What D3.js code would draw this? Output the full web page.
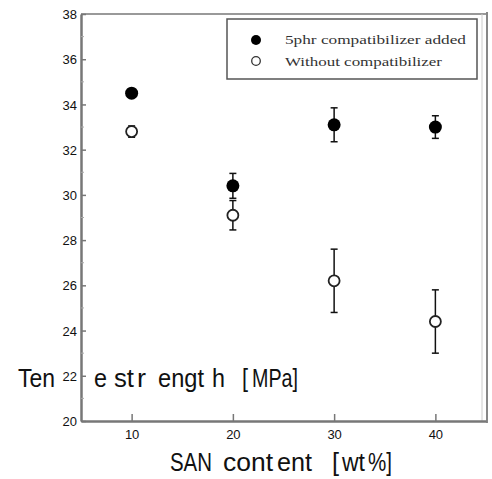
<!DOCTYPE html>
<html>
<head>
<meta charset="utf-8">
<script src="https://cdn.jsdelivr.net/npm/d3@7"></script>
<style>
  body { margin: 0; background: #fff; }
  svg { display: block; }
</style>
</head>
<body>
<div id="chart"></div>
<script>
const content = [10, 20, 30, 40];
const withComp = [34.5, 30.4, 33.1, 33.0];
const withCompErr = [0.1, 0.55, 0.75, 0.5];
const withoutComp = [32.8, 29.1, 26.2, 24.4];
const withoutCompErr = [0.25, 0.65, 1.4, 1.4];
const yTicks = [20, 22, 24, 26, 28, 30, 32, 34, 36, 38];
const xTicks = [10, 20, 30, 40];
const legendLabels = ["5phr compatibilizer added", "Without compatibilizer"];

const width = 492, height = 479;
const svg = d3.select("#chart").append("svg")
  .attr("width", width)
  .attr("height", height);

const x = d3.scaleLinear().domain([5, 45]).range([81, 486]);
const y = d3.scaleLinear().domain([20, 38]).range([421, 14]);

// frame (top and right)
svg.append("line").attr("x1", 81).attr("x2", 486).attr("y1", 14).attr("y2", 14)
  .attr("stroke", "#999").attr("stroke-width", 2);
svg.append("line").attr("x1", 482).attr("x2", 482).attr("y1", 14).attr("y2", 421)
  .attr("stroke", "#ccc").attr("stroke-width", 1);
svg.append("line").attr("x1", 487).attr("x2", 487).attr("y1", 12).attr("y2", 423)
  .attr("stroke", "#888").attr("stroke-width", 2);

// y label, drawn horizontally as in the reference
const yl = svg.append("text")
  .attr("y", 387)
  .style("font-family", "Liberation Sans, Arial, sans-serif")
  .style("font-size", "26px")
  .attr("fill", "#111");
[["Ten", 18, 37], ["e", 94, 13], ["st", 114, 20], ["r", 137, 9], ["engt", 158, 46],
 ["h", 212, 13], ["[", 242, 6], ["MPa]", 252, 46]].forEach(([t, px, w]) => {
  yl.append("tspan").attr("x", px).attr("textLength", w)
    .attr("lengthAdjust", "spacingAndGlyphs").text(t);
});

// y axis
const yAxis = svg.append("g")
  .attr("transform", `translate(81,0)`)
  .call(d3.axisLeft(y).tickValues(yTicks).tickSize(0).tickPadding(4));
yAxis.select(".domain").attr("stroke", "#777").attr("stroke-width", 2.5);
yAxis.selectAll("text")
  .style("font-family", "Liberation Sans, Arial, sans-serif")
  .style("font-size", "13px")
  .attr("fill", "#111")
  .attr("dy", "0.35em");
yAxis.selectAll(".tick").append("line")
  .attr("x1", 0).attr("x2", 5).attr("stroke", "#777").attr("stroke-width", 1.5);
svg.append("g").selectAll("line")
  .data(d3.range(21, 38, 2))
  .join("line")
  .attr("x1", 81).attr("x2", 84)
  .attr("y1", d => y(d)).attr("y2", d => y(d))
  .attr("stroke", "#aaa").attr("stroke-width", 1);

// x axis
const xAxis = svg.append("g")
  .attr("transform", `translate(0,421)`)
  .call(d3.axisBottom(x).tickValues(xTicks).tickSize(0).tickPadding(9));
xAxis.select(".domain").attr("stroke", "#777").attr("stroke-width", 2.5);
xAxis.selectAll("text")
  .style("font-family", "Liberation Sans, Arial, sans-serif")
  .style("font-size", "13px")
  .attr("fill", "#111");
xAxis.selectAll(".tick").append("line")
  .attr("y1", 0).attr("y2", -7).attr("stroke", "#777").attr("stroke-width", 1.5);

// x label
const xl = svg.append("text")
  .attr("y", 471)
  .style("font-family", "Liberation Sans, Arial, sans-serif")
  .style("font-size", "25px")
  .attr("fill", "#111");
[["SAN", 170, 42], ["cont", 223, 50], ["ent", 277, 35], ["[", 332, 7],
 ["wt", 342, 23], ["%]", 368, 24]].forEach(([t, px, w]) => {
  xl.append("tspan").attr("x", px).attr("textLength", w)
    .attr("lengthAdjust", "spacingAndGlyphs").text(t);
});

// error bars
function errorBars(vals, errs) {
  const g = svg.append("g").attr("stroke", "#111").attr("stroke-width", 1.5);
  content.forEach((c, i) => {
    const cx = x(c), top = y(vals[i] + errs[i]), bot = y(vals[i] - errs[i]);
    g.append("line").attr("x1", cx).attr("x2", cx).attr("y1", top).attr("y2", bot);
    g.append("line").attr("x1", cx - 3.5).attr("x2", cx + 3.5).attr("y1", top).attr("y2", top);
    g.append("line").attr("x1", cx - 3.5).attr("x2", cx + 3.5).attr("y1", bot).attr("y2", bot);
  });
}
errorBars(withoutComp, withoutCompErr);
errorBars(withComp, withCompErr);

svg.append("g").selectAll("circle")
  .data(content)
  .join("circle")
  .attr("cx", d => x(d))
  .attr("cy", (d, i) => y(withoutComp[i]))
  .attr("r", 5.5)
  .attr("fill", "#fff")
  .attr("stroke", "#222")
  .attr("stroke-width", 1.8);

svg.append("g").selectAll("circle")
  .data(content)
  .join("circle")
  .attr("cx", d => x(d))
  .attr("cy", (d, i) => y(withComp[i]))
  .attr("r", 6.5)
  .attr("fill", "#000");

// legend
const lg = svg.append("g");
lg.append("rect")
  .attr("x", 227).attr("y", 19).attr("width", 250).attr("height", 60)
  .attr("fill", "#fff").attr("stroke", "#555").attr("stroke-width", 1.5);
lg.append("circle").attr("cx", 256).attr("cy", 40).attr("r", 5).attr("fill", "#000");
lg.append("circle").attr("cx", 256).attr("cy", 61).attr("r", 4.3)
  .attr("fill", "#fff").attr("stroke", "#333").attr("stroke-width", 1.3);
legendLabels.forEach((t, i) => {
  lg.append("text")
    .attr("x", 285).attr("y", i === 0 ? 44 : 66)
    .attr("textLength", i === 0 ? 181 : 157)
    .attr("lengthAdjust", "spacingAndGlyphs")
    .style("font-family", "Liberation Serif, Times New Roman, serif")
    .style("font-size", "13px")
    .attr("fill", "#333")
    .text(t);
});
</script>
</body>
</html>
